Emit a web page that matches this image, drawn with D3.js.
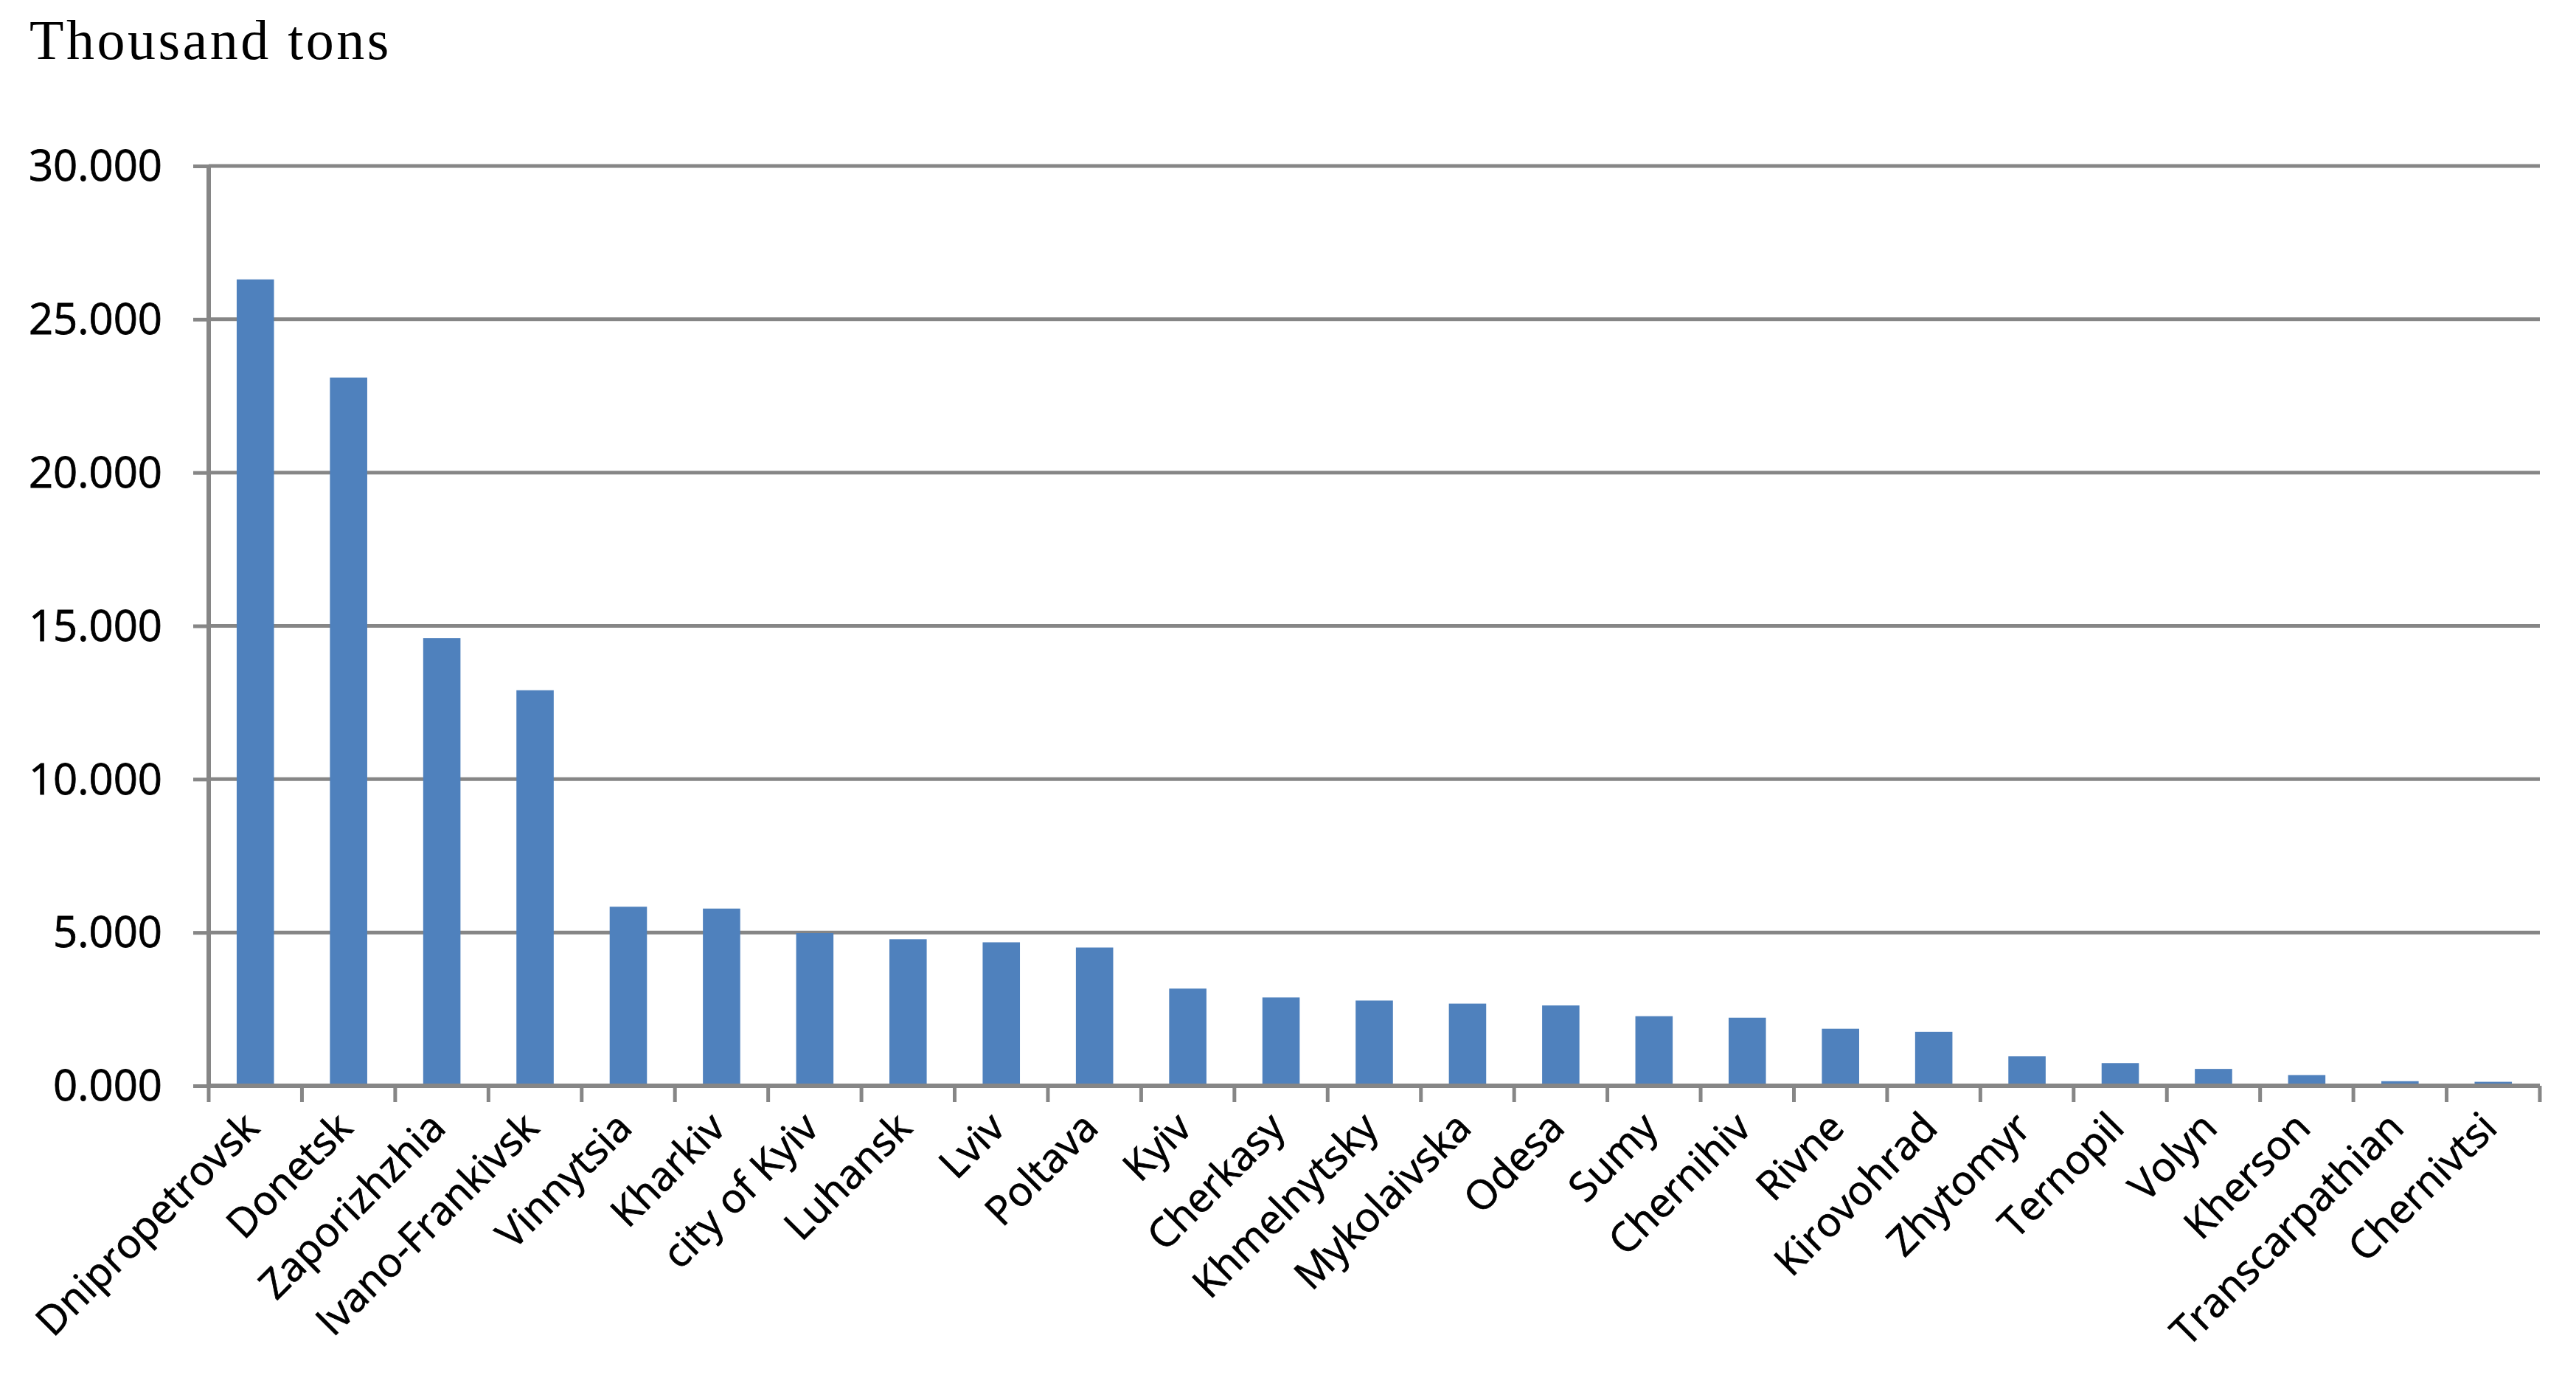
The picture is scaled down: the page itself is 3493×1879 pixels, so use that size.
<!DOCTYPE html>
<html>
<head>
<meta charset="utf-8">
<script src="https://cdn.jsdelivr.net/npm/d3@7"></script>
<style>
  html, body { margin: 0; padding: 0; background: #ffffff; }
  svg { display: block; }
</style>
</head>
<body>
<script>
const categories = ["Dnipropetrovsk","Donetsk","Zaporizhzhia","Ivano-Frankivsk","Vinnytsia","Kharkiv","city of Kyiv","Luhansk","Lviv","Poltava","Kyiv","Cherkasy","Khmelnytsky","Mykolaivska","Odesa","Sumy","Chernihiv","Rivne","Kirovohrad","Zhytomyr","Ternopil","Volyn","Kherson","Transcarpathian","Chernivtsi"];
const values = [26.3, 23.1, 14.6, 12.9, 5.84, 5.78, 4.98, 4.78, 4.68, 4.51, 3.17, 2.88, 2.78, 2.68, 2.62, 2.27, 2.22, 1.86, 1.76, 0.96, 0.74, 0.55, 0.35, 0.15, 0.13];
const yTicks = [0, 5, 10, 15, 20, 25, 30];
const yLabel = "Thousand tons";

(function () {
const W = 3493, H = 1879;
const mLeft = 283, mRight = 3444, mTop = 225, mBottom = 1472;
const gridColor = "#868686";
const barColor = "#4F81BD";
const labelFont = "'Open Sans', sans-serif";

const svg = d3.select("body").append("svg").attr("width", W).attr("height", H);

const x = d3.scaleBand().domain(categories).range([mLeft, mRight]).paddingInner(0.6).paddingOuter(0.3);
const xb = d3.scaleLinear().domain([0, categories.length]).range([mLeft, mRight]);
const y = d3.scaleLinear().domain([0, 30]).range([mBottom, mTop]);

// gridlines
svg.append("g").selectAll("line").data(yTicks.filter(d => d > 0)).join("line")
  .attr("x1", mLeft).attr("x2", mRight)
  .attr("y1", d => y(d)).attr("y2", d => y(d))
  .attr("stroke", gridColor).attr("stroke-width", 5);

// bars
svg.append("g").selectAll("rect").data(values).join("rect")
  .attr("x", (d, i) => x(categories[i]))
  .attr("width", x.bandwidth())
  .attr("y", d => y(d))
  .attr("height", d => y(0) - y(d))
  .attr("fill", barColor);

// y axis
const yAxis = svg.append("g").attr("transform", `translate(${mLeft},0)`)
  .call(d3.axisLeft(y).tickValues(yTicks).tickFormat(d3.format(".3f")).tickSize(21).tickPadding(42));
yAxis.select(".domain").attr("stroke", gridColor).attr("stroke-width", 6).attr("d", `M0,${mTop}V${mBottom}`);
yAxis.selectAll(".tick line").attr("stroke", gridColor).attr("stroke-width", 5);
yAxis.selectAll(".tick text").attr("font-family", labelFont).attr("font-size", 58).attr("fill", "#000")
  .attr("stroke", "#000").attr("stroke-width", 0.8).attr("dy", "0.34em");

// x axis
const xg = svg.append("g");
xg.append("line").attr("x1", mLeft).attr("x2", mRight).attr("y1", mBottom).attr("y2", mBottom)
  .attr("stroke", gridColor).attr("stroke-width", 6);
xg.selectAll("line.tk").data(d3.range(categories.length + 1)).join("line").attr("class", "tk")
  .attr("x1", d => xb(d)).attr("x2", d => xb(d))
  .attr("y1", mBottom).attr("y2", mBottom + 22)
  .attr("stroke", gridColor).attr("stroke-width", 5);
xg.selectAll("text").data(categories).join("text")
  .attr("transform", d => `translate(${x(d) + x.bandwidth() / 2 + 8},${mBottom + 60}) rotate(-45)`)
  .attr("text-anchor", "end")
  .attr("font-family", labelFont).attr("font-size", 55).attr("fill", "#000")
  .attr("stroke", "#000").attr("stroke-width", 0.8)
  .text(d => d);

// title
svg.append("text").attr("x", 40).attr("y", 80)
  .attr("font-family", "'Liberation Serif', serif").attr("font-size", 76)
  .attr("letter-spacing", 3.5).attr("fill", "#000").text(yLabel);
})();
</script>
</body>
</html>
